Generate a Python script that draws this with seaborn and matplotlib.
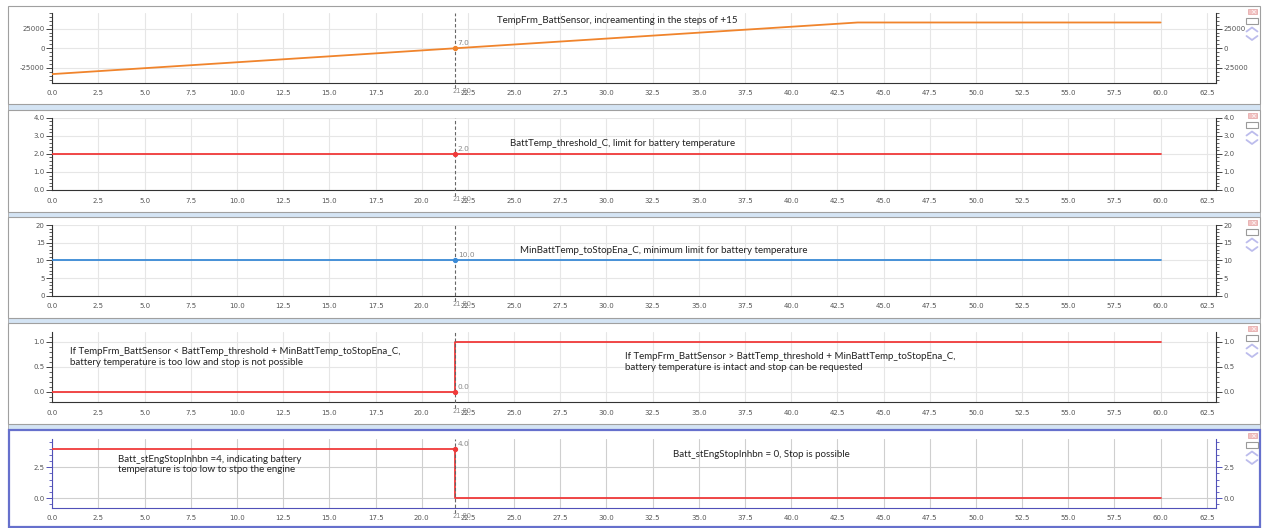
import numpy as np
import pandas as pd
import seaborn as sns
import matplotlib
matplotlib.use("Agg")
import matplotlib.pyplot as plt
from matplotlib.ticker import MultipleLocator, AutoMinorLocator, FuncFormatter
from matplotlib.patches import Rectangle
import matplotlib.transforms as mtransforms

# ---------------- data ----------------
sensor_t = [0.0, 43.6, 60.0]
sensor_val = [-32768, 32767, 32767]
thresh_t = [0.0, 60.0]
thresh_val = [2.0, 2.0]
minbatt_t = [0.0, 60.0]
minbatt_val = [10.0, 10.0]
cond_t = [0.0, 21.8, 60.0]
cond_val = [0, 1, 1]
inhbn_t = [0.0, 21.8, 60.0]
inhbn_val = [4, 0, 0]

cursor_t = 21.8
cursor_label = "21.80"
cursor_texts = ["7.0", "2.0", "10.0", "0.0", "4.0"]

x_ticks_step = 2.5
annotations = [
    [(24.1, 35900, "TempFrm_BattSensor, increamenting in the steps of +15")],
    [(24.8, 2.6, "BattTemp_threshold_C, limit for battery temperature")],
    [(25.3, 12.9, "MinBattTemp_toStopEna_C, minimum limit for battery temperature")],
    [(0.97, 0.70, "If TempFrm_BattSensor < BattTemp_threshold + MinBattTemp_toStopEna_C,\nbattery temperature is too low and stop is not possible"),
     (31.0, 0.60, "If TempFrm_BattSensor > BattTemp_threshold + MinBattTemp_toStopEna_C,\nbattery temperature is intact and stop can be requested")],
    [(3.57, 2.72, "Batt_stEngStopInhbn =4, indicating battery\ntemperature is too low to stpo the engine"),
     (33.6, 3.57, "Batt_stEngStopInhbn = 0, Stop is possible")],
]

series = [
    (sensor_t, sensor_val, "#f0842c", "default"),
    (thresh_t, thresh_val, "#f03a3a", "steps-post"),
    (minbatt_t, minbatt_val, "#3a8ad6", "steps-post"),
    (cond_t, cond_val, "#f03a3a", "steps-post"),
    (inhbn_t, inhbn_val, "#f03a3a", "steps-post"),
]

ylims = [(-43700, 45200), (0, 4), (0, 20), (-0.2, 1.19), (-0.76, 4.78)]
ymajor = [25000, 1.0, 5, 0.5, 2.5]
yfmt = ["{:.0f}", "{:.1f}", "{:.0f}", "{:.1f}", "{:.1f}"]

# ---------------- layout ----------------
sns.set_style("white")
plt.rcParams["font.family"] = ["DejaVu Sans"]

W, H = 1265, 528
fig = plt.figure(figsize=(W / 100, H / 100), dpi=100)

bg = fig.add_axes([0, 0, 1, 1], zorder=-5)
bg.set_xlim(0, W)
bg.set_ylim(H, 0)
bg.axis("off")

frames = [(6, 104), (110, 212), (217, 318), (323, 424), (430, 527)]
for i in range(len(frames) - 1):
    b = frames[i][1]
    t = frames[i + 1][0]
    bg.add_patch(Rectangle((8, b), 1252, t - b, fc="#d4e4f4", ec="#a8a8a8", lw=0.6))
for i, (t, b) in enumerate(frames):
    if i == 4:
        bg.add_patch(Rectangle((8.5, t), 1251, b - t, fc="white", ec="#6670cc", lw=1.6))
    else:
        bg.add_patch(Rectangle((8, t), 1252, b - t, fc="white", ec="#a0a0a0", lw=0.8))
    # right side control icons
    bg.add_patch(Rectangle((1248, t + 3.3), 9, 5, fc="#f2c2c2", ec="#e2a2a2", lw=0.5))
    bg.text(1252.5, t + 5.8, "×", color="white", fontsize=5, ha="center", va="center")
    bg.add_patch(Rectangle((1246, t + 11.7), 12, 6, fc="white", ec="#9a9a9a", lw=0.8))
    bg.plot([1246.5, 1252, 1257.5], [t + 25.5, t + 21.5, t + 25.5], color="#bcbcec", lw=1.3,
            solid_capstyle="round")
    bg.plot([1246.5, 1252, 1257.5], [t + 30, t + 34, t + 30], color="#bcbcec", lw=1.3,
            solid_capstyle="round")

ax_px = [(12.7, 82.7), (117.7, 190), (225, 295.7), (332, 402), (439, 507.7)]
x0, x1 = 52.3, 1216.0

for i, ((top, bot), (t, v, col, ds)) in enumerate(zip(ax_px, series)):
    ax = fig.add_axes([x0 / W, 1 - bot / H, (x1 - x0) / W, (bot - top) / H])
    ax.set_facecolor("none")
    df = pd.DataFrame({"t": t, "v": v})
    sns.lineplot(data=df, x="t", y="v", ax=ax, color=col, lw=1.3,
                 estimator=None, sort=False, drawstyle=ds, zorder=3)
    ax.set_xlim(0, 63)
    ax.set_ylim(*ylims[i])
    ax.set_xlabel("")
    ax.set_ylabel("")

    spine_col = "#5050b8" if i == 4 else "#333333"
    tick_col = "#5050b8" if i == 4 else "#444444"
    for s in ["left", "right", "bottom"]:
        ax.spines[s].set_visible(True)
        ax.spines[s].set_color(spine_col)
        ax.spines[s].set_linewidth(0.8)
    ax.spines["top"].set_visible(False)

    ax.xaxis.set_major_locator(MultipleLocator(x_ticks_step))
    ax.xaxis.set_minor_locator(AutoMinorLocator(5))
    ax.yaxis.set_major_locator(MultipleLocator(ymajor[i]))
    ax.yaxis.set_minor_locator(AutoMinorLocator(5))
    ax.xaxis.set_major_formatter(FuncFormatter(lambda x, p: f"{x:.1f}"))
    f = yfmt[i]
    ax.yaxis.set_major_formatter(FuncFormatter(lambda y, p, f=f: f.format(0.0 if abs(y) < 1e-9 else y)))

    ax.tick_params(axis="both", which="major", length=4, width=0.7, labelsize=5,
                   color=tick_col, labelcolor="#555555", pad=1.5, direction="out")
    ax.tick_params(axis="both", which="minor", length=2.5, width=0.6, color=tick_col,
                   direction="out")
    ax.tick_params(axis="y", which="both", left=True, right=True, labelleft=True,
                   labelright=True)

    grid_col = "#cfcfcf" if i == 4 else "#e6e6e6"
    ax.grid(True, which="major", color=grid_col, lw=0.8)
    ax.set_axisbelow(True)

    # cursor
    ax.axvline(cursor_t, ymin=-0.08, ymax=1.0, clip_on=False, color="#666666",
               lw=0.8, ls=(0, (3, 2)), zorder=4)
    if ds == "steps-post":
        k = np.searchsorted(t, cursor_t, side="left") - 1
        cy = v[max(k, 0)]
    else:
        cy = np.interp(cursor_t, t, v)
    ax.plot([cursor_t], [cy], marker="o", ms=2.8, color=col, zorder=5, clip_on=False)
    ax.annotate(cursor_texts[i], (cursor_t, cy), xytext=(2, 1.5),
                textcoords="offset points", fontsize=5.3, color="#888888",
                va="bottom", ha="left")
    trans = mtransforms.blended_transform_factory(ax.transData, ax.transAxes)
    ax.annotate(cursor_label, (cursor_t, 0), xycoords=trans, xytext=(-1.5, -4),
                textcoords="offset points", fontsize=4.8, color="#888888",
                va="top", ha="left", annotation_clip=False)

    for (ax_x, ax_y, txt) in annotations[i]:
        ax.text(ax_x, ax_y, txt, fontsize=7, family="Lato", color="#222222",
                ha="left", va="center", linespacing=1.25, zorder=6)

fig.savefig("out.png", dpi=100)
